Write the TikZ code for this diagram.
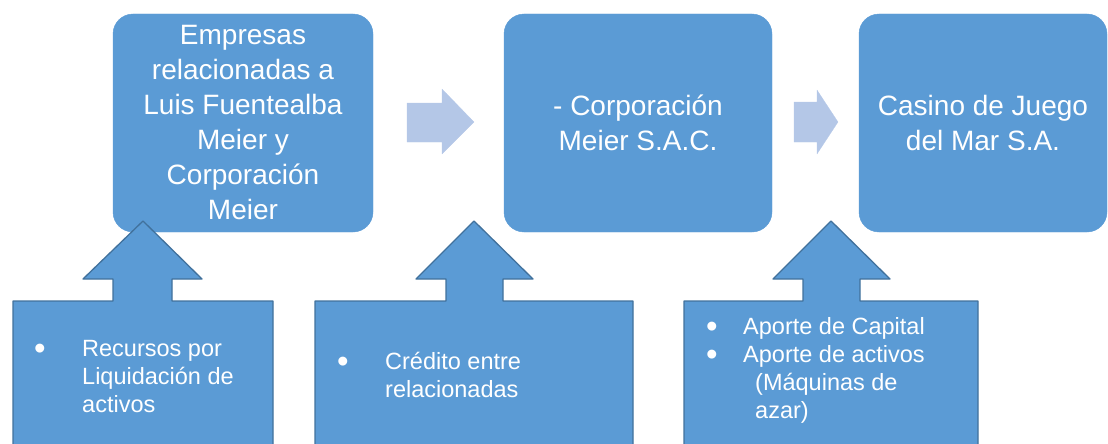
\documentclass[tikz,border=0pt]{standalone}
\usepackage{fontspec}
\setmainfont{Liberation Sans}
\usepackage{tkz-euclide}
\tikzset{>=stealth}
\definecolor{boxblue}{HTML}{5B9BD5}
\definecolor{edgeblue}{HTML}{41719C}
\definecolor{paleblue}{HTML}{B4C7E7}
\newcommand{\dotmark}{\raisebox{-0.13em}{\scalebox{1.4}{\textbullet}}}
\tikzset{
  entity/.style={fill=boxblue, draw=boxblue, rounded corners=20pt, text=white,
    align=center, inner sep=0pt, minimum height=218pt, font=\fontsize{28}{35}\selectfont},
  callout/.style={fill=boxblue, draw=edgeblue, line width=1.3pt},
  flow/.style={fill=paleblue, draw=paleblue},
  items/.style={text=white, anchor=west, inner sep=0pt, font=\fontsize{23.5}{28}\selectfont}
}

\begin{document}
\begin{tikzpicture}[x=1pt,y=-1pt]
    \useasboundingbox (0,0) rectangle (1108,444);
    \node[entity, minimum width=260pt] (E) at (243,123) {Empresas\\relacionadas a\\Luis Fuentealba\\Meier y\\Corporación\\Meier};
    \node[entity, minimum width=268pt] (C) at (638,123) {- Corporación\\Meier S.A.C.};
    \node[entity, minimum width=248pt] (M) at (983,123) {Casino de Juego\\del Mar S.A.};
    % flow arrows
    \tkzDefPoints{407/103/p1, 442/103/p2, 442/89/p3, 474/122/p4, 442/154/p5, 442/142/p6, 407/142/p7}
    \tkzDefPoints{794/102/q1, 817/102/q2, 817/90/q3, 838/122/q4, 817/154/q5, 817/142/q6, 794/142/q7}
    \tkzDrawPolygon[flow](p1,p2,p3,p4,p5,p6,p7)
    \tkzDrawPolygon[flow](q1,q2,q3,q4,q5,q6,q7)
    % callouts
    \tkzDefPoints{13/447/a1, 13/301/a2, 113/301/a3, 113/279/a4, 83/279/a5, 143/221/a6,
      202/279/a7, 172/279/a8, 172/301/a9, 273/301/a10, 273/447/a11}
    \tkzDefPoints{315/447/b1, 315/301/b2, 446/301/b3, 446/279/b4, 416/279/b5, 474/221/b6,
      533/279/b7, 503/279/b8, 503/301/b9, 633/301/b10, 633/447/b11}
    \tkzDefPoints{684/447/c1, 684/301/c2, 803/301/c3, 803/279/c4, 773/279/c5, 831/221/c6,
      890/279/c7, 860/279/c8, 860/301/c9, 978/301/c10, 978/447/c11}
    \tkzDrawPolygon[callout](a1,a2,a3,a4,a5,a6,a7,a8,a9,a10,a11)
    \tkzDrawPolygon[callout](b1,b2,b3,b4,b5,b6,b7,b8,b9,b10,b11)
    \tkzDrawPolygon[callout](c1,c2,c3,c4,c5,c6,c7,c8,c9,c10,c11)
    \node[items] (R) at (34,378.5) {\begin{tabular}{@{}p{48pt}@{}l@{}}
      \dotmark & Recursos por\\ & Liquidación de\\ & activos\end{tabular}};
    \node[items] (K) at (337,377.5) {\begin{tabular}{@{}p{48pt}@{}l@{}}
      \dotmark & Crédito entre\\ & relacionadas\end{tabular}};
    \node[items] (A) at (706,371) {\begin{tabular}{@{}p{37pt}@{}l@{}}
      \dotmark & Aporte de Capital\\ \dotmark & Aporte de activos\\
      & \hspace{12pt}(Máquinas de\\ & \hspace{12pt}azar)\end{tabular}};
\end{tikzpicture}
\end{document}
